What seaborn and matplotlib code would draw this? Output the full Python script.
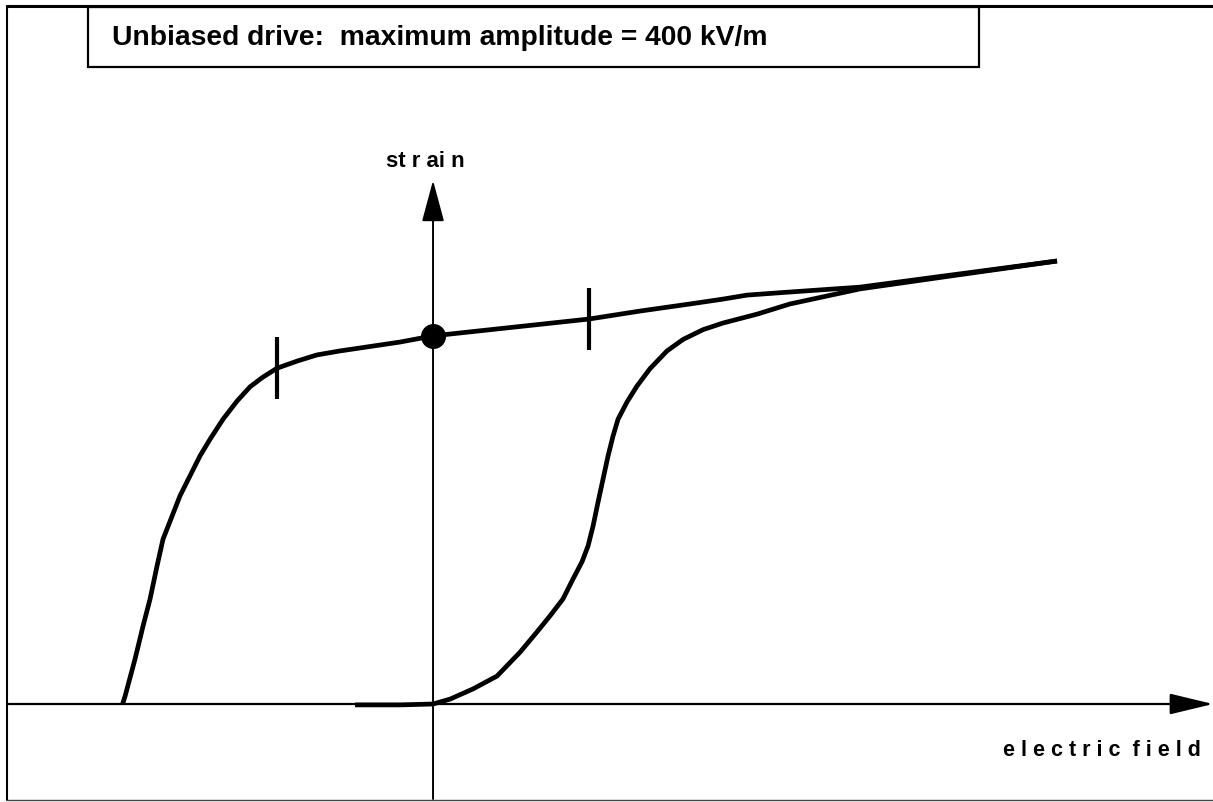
import numpy as np
import pandas as pd
import matplotlib
import matplotlib.pyplot as plt
import seaborn as sns
matplotlib.use('Agg')

# данные: поле в kV/m, деформация в относительных единицах (1 = максимум)
upper_field = [-199, -197.4, -191, -185.9, -181.4, -176.9, -173.1, -167.3, -162.2,
               -155.8, -149.4, -142.9, -134.6, -125.6, -117.3, -109, -100, -87.2,
               -74.4, -59.6, -42.3, -21.2, 0, 100, 132.7, 164.7, 185.9, 201.3,
               228.8, 273.7, 331.4, 400]
upper_strain = [0.0, 0.018, 0.102, 0.176, 0.237, 0.312, 0.372, 0.424, 0.47, 0.515,
                0.56, 0.598, 0.643, 0.684, 0.716, 0.738, 0.758, 0.774, 0.788, 0.797,
                0.806, 0.817, 0.831, 0.869, 0.887, 0.903, 0.914, 0.923, 0.93, 0.941,
                0.968, 1.0]

lower_field = [400, 331.4, 273.7, 228.8, 207.7, 185.9, 173.1, 160.3, 150, 139.1,
               130.8, 124.4, 118.6, 115.4, 112.2, 109, 105.8, 102.6, 99.4, 95.5,
               89.7, 83.3, 75, 66.7, 55.8, 41, 25.6, 10.9, 0, -21, -50]
lower_strain = [1.0, 0.966, 0.937, 0.903, 0.88, 0.86, 0.845, 0.823, 0.797, 0.757,
                0.718, 0.682, 0.643, 0.605, 0.56, 0.508, 0.456, 0.402, 0.357, 0.321,
                0.282, 0.237, 0.199, 0.163, 0.117, 0.063, 0.034, 0.011, 0.0, -0.002,
                -0.002]

tick_field = [-100, 100]
origin_field = [0]

title = "Unbiased drive:  maximum amplitude = 400 kV/m"

sns.set_theme(style="white")
plt.rcParams['font.family'] = ['Liberation Sans', 'DejaVu Sans']
plt.rcParams['text.color'] = 'black'

fig = plt.figure(figsize=(12.13, 8.03), dpi=100)
ax = fig.add_axes([0, 0, 1, 1])
ax.set_xlim(-277.6, 500)
ax.set_ylim(-0.2212, 1.5914)
ax.axis('off')

# рамка (верх, лево, низ)
ax.plot([0.006, 1.0], [0.991, 0.991], transform=ax.transAxes, color='black', lw=2.2)
ax.plot([0.006, 0.006], [0.003, 0.991], transform=ax.transAxes, color='black', lw=1.5)
ax.plot([0.006, 1.0], [0.003, 0.003], transform=ax.transAxes, color='#444444', lw=1.0)

# оси со стрелками
ax.annotate('', xy=(500, 0), xytext=(-273, 0), annotation_clip=False,
            arrowprops=dict(arrowstyle='-|>,head_length=27,head_width=6.5',
                            color='black', lw=1.6, shrinkA=0, shrinkB=0,
                            mutation_scale=1))
ax.annotate('', xy=(0, 1.182), xytext=(0, -0.2144), annotation_clip=False,
            arrowprops=dict(arrowstyle='-|>,head_length=26,head_width=7',
                            color='black', lw=1.4, shrinkA=0, shrinkB=0,
                            mutation_scale=1))

# петля
up = pd.DataFrame({'field': upper_field, 'strain': upper_strain})
low = pd.DataFrame({'field': lower_field, 'strain': lower_strain})
for part in (up, low):
    sns.lineplot(data=part, x='field', y='strain', sort=False, estimator=None,
                 color='black', lw=3.4, ax=ax,
                 solid_joinstyle='round', solid_capstyle='butt')

# засечки и точка
tick_strain = np.interp(tick_field, upper_field, upper_strain)
origin_strain = np.interp(origin_field, upper_field, upper_strain)
ax.scatter(tick_field, tick_strain, marker='|', s=44 ** 2, linewidths=3,
           color='black', zorder=5)
ax.scatter(origin_field, origin_strain, marker='o', s=17 ** 2, color='black',
           zorder=6)

# заголовок в рамке
ax.add_patch(plt.Rectangle((0.0725, 0.9153), 0.7346, 0.0747, transform=ax.transAxes,
                           fill=False, edgecolor='black', lw=1.6))
ax.text(0.0923, 0.9527, title, transform=ax.transAxes, ha='left', va='center',
        fontsize=20.3, fontweight='bold', color='black')

# подписи осей
ax.text(0.3504, 0.7989, "st r ai n", transform=ax.transAxes, ha='center',
        va='center', fontsize=16, fontweight='bold', color='black')
ax.text(0.9081, 0.0648, "e l e c t r i c  f i e l d", transform=ax.transAxes,
        ha='center', va='center', fontsize=15.5, fontweight='bold', color='black')

fig.savefig('out.png', dpi=100)
